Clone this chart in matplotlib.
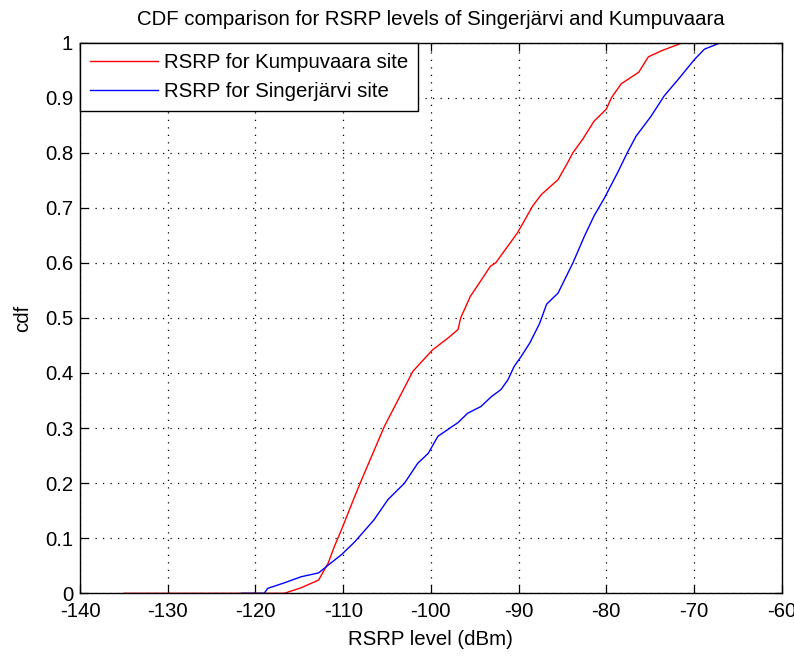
import matplotlib
matplotlib.use("Agg")
import matplotlib.pyplot as plt

# Kumpuvaara site (red)
kump_rsrp = [-135, -116.7, -114.8, -112.8, -111.7, -111.0, -110.2, -108.7, -107.9,
             -105.3, -102.05, -99.8, -98.0, -96.9, -96.6, -95.5, -93.2, -92.6,
             -90.1, -88.4, -87.4, -85.5, -84.4, -83.8, -82.7, -81.4, -80.0, -79.4,
             -78.3, -76.3, -75.2, -73.7, -71.4, -70.0]
kump_cdf = [0, 0, 0.01, 0.024, 0.055, 0.085, 0.115, 0.175, 0.206,
            0.303, 0.403, 0.442, 0.464, 0.479, 0.5, 0.539, 0.594, 0.6,
            0.655, 0.703, 0.724, 0.751, 0.782, 0.8, 0.824, 0.857, 0.879, 0.9,
            0.925, 0.946, 0.974, 0.985, 0.999, 1.0]

# Singerjarvi site (blue)
sing_rsrp = [-121.6, -119.0, -118.6, -116.7, -114.8, -112.8, -111.4, -110.2, -108.7,
             -106.5, -104.9, -103.0, -101.5, -100.3, -99.2, -96.9, -95.8, -94.3,
             -93.1, -92.0, -91.2, -90.5, -89.7, -88.7, -87.6, -86.8, -85.5, -83.8,
             -82.5, -81.4, -80.2, -78.7, -77.6, -76.6, -74.9, -73.4, -71.8, -69.9,
             -68.8, -66.9, -65.5]
sing_cdf = [0, 0, 0.009, 0.019, 0.03, 0.037, 0.055, 0.07, 0.093,
            0.133, 0.17, 0.2, 0.236, 0.254, 0.285, 0.31, 0.327, 0.339,
            0.357, 0.37, 0.388, 0.412, 0.43, 0.455, 0.49, 0.525, 0.545, 0.6,
            0.648, 0.685, 0.718, 0.764, 0.8, 0.83, 0.866, 0.903, 0.933, 0.97,
            0.988, 1.0, 1.0]

x_ticks = list(range(-140, -59, 10))
y_ticks = [0, 0.1, 0.2, 0.3, 0.4, 0.5, 0.6, 0.7, 0.8, 0.9, 1]
y_labels = ["0", "0.1", "0.2", "0.3", "0.4", "0.5", "0.6", "0.7", "0.8", "0.9", "1"]

plt.rcParams["font.family"] = ["Liberation Sans", "DejaVu Sans"]
plt.rcParams["font.size"] = 14.7
plt.rcParams["axes.unicode_minus"] = False

fig = plt.figure(figsize=(7.94, 6.57), dpi=100)
ax = fig.add_axes([80 / 794, 1 - 593.3 / 657, 701.7 / 794, 550.8 / 657])

ax.plot(kump_rsrp, kump_cdf, color="#ff0000", lw=1.0, label="RSRP for Kumpuvaara site")
ax.plot(sing_rsrp, sing_cdf, color="#0000ff", lw=1.0, label="RSRP for Singerjärvi site")

ax.set_xlim(-140, -60)
ax.set_ylim(0, 1)
ax.set_xticks(x_ticks)
ax.set_yticks(y_ticks)
ax.set_yticklabels(y_labels)
ax.tick_params(direction="in", top=True, right=True, length=6, width=0.9,
               pad=5, colors="black", labelsize=14.7)
ax.tick_params(axis="x", pad=6)
ax.grid(True, color="black", linestyle=(0, (1, 5)), lw=0.9)
for spine in ax.spines.values():
    spine.set_color("black")
    spine.set_linewidth(1.0)

ax.set_title("CDF comparison for RSRP levels of Singerjärvi and Kumpuvaara",
             fontsize=14.7, pad=12.5)
ax.set_xlabel("RSRP level (dBm)", labelpad=7)
ax.set_ylabel("cdf", labelpad=9)

leg = ax.legend(loc="upper left", borderaxespad=0, fancybox=False,
                edgecolor="black", framealpha=1, handlelength=3.3,
                handletextpad=0.3, borderpad=0.5, labelspacing=0.5,
                fontsize=14.7)
leg.get_frame().set_linewidth(1.0)

fig.savefig("out.png", dpi=100, facecolor="white")
